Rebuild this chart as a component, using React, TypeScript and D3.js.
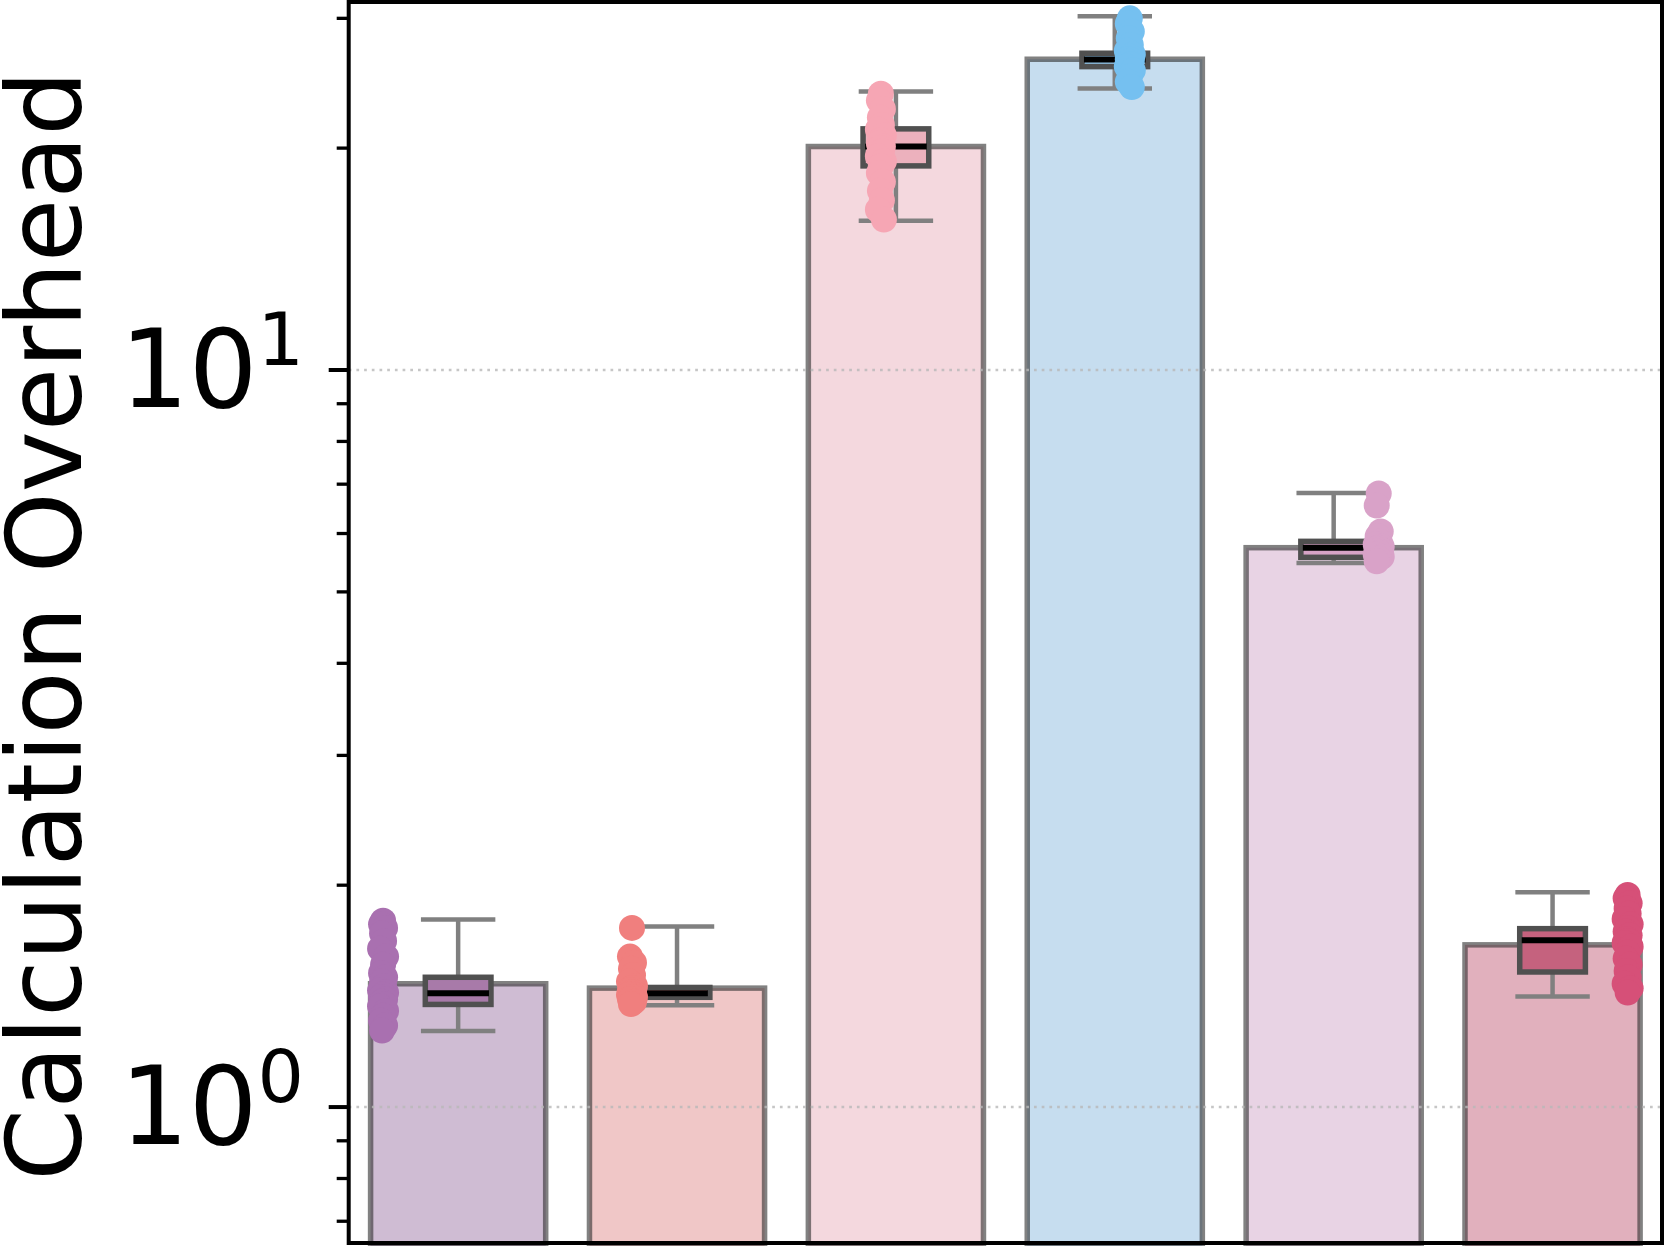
import { useEffect } from 'react';
import * as d3 from 'd3';

// six configurations, no tick labels on x in the original figure
const groups = ['A', 'B', 'C', 'D', 'E', 'F'];

// bar heights (mean overhead)
const means = [1.47, 1.45, 20.1, 26.4, 5.74, 1.66];

// box plot stats
const q1 = [1.378, 1.409, 18.92, 25.8, 5.57, 1.525];
const medians = [1.427, 1.427, 20.1, 26.37, 5.737, 1.684];
const q3 = [1.5, 1.453, 21.24, 26.9, 5.855, 1.746];
const whiskerLow = [1.268, 1.374, 15.94, 24.1, 5.47, 1.413];
const whiskerHigh = [1.797, 1.758, 23.87, 30.2, 6.81, 1.957];

// individual runs (strip points)
const runsA = [1.79, 1.77, 1.75, 1.72, 1.68, 1.64, 1.6, 1.56, 1.52, 1.5, 1.48, 1.46, 1.44, 1.43, 1.42, 1.41, 1.4, 1.39, 1.38, 1.37, 1.35, 1.33, 1.31, 1.29, 1.27];
const runsB = [1.75, 1.6, 1.57, 1.54, 1.51, 1.48, 1.46, 1.45, 1.44, 1.43, 1.43, 1.42, 1.42, 1.41, 1.41, 1.4, 1.39, 1.38];
const runsC = [23.7, 23.2, 22.6, 22.0, 21.5, 21.2, 20.8, 20.5, 20.3, 20.1, 20.0, 19.8, 19.5, 19.2, 18.9, 18.5, 18.0, 17.5, 17.0, 16.5, 16.0];
const runsD = [30.0, 29.5, 28.8, 28.2, 27.6, 27.1, 26.8, 26.6, 26.4, 26.3, 26.2, 26.0, 25.8, 25.5, 25.0, 24.6, 24.2];
const runsE = [6.8, 6.55, 6.04, 5.95, 5.85, 5.8, 5.76, 5.74, 5.72, 5.7, 5.68, 5.65, 5.62, 5.58, 5.55, 5.5];
const runsF = [1.94, 1.92, 1.89, 1.86, 1.83, 1.8, 1.77, 1.75, 1.73, 1.71, 1.69, 1.68, 1.67, 1.65, 1.62, 1.59, 1.56, 1.53, 1.5, 1.47, 1.45, 1.43];
const runs = [runsA, runsB, runsC, runsD, runsE, runsF];

const barColors = ['#cfbcd3', '#f0c7c7', '#f4d8de', '#c6ddef', '#e8d3e4', '#e1b0bd'];
const boxColors = ['#a87aa9', '#e8908f', '#ecb1bd', '#8fc0e4', '#d6a3c6', '#c5627e'];
const pointColors = ['#a970b0', '#f07f7e', '#f6a6b4', '#75c0f0', '#d9a2c8', '#d65078'];

const majorTicks = [1, 10];
const minorTicks = [0.7, 0.8, 0.9, 2, 3, 4, 5, 6, 7, 8, 9, 20, 30];

const W = 1664;
const H = 1246;
const M = { left: 348.7, right: 1662, top: 2, bottom: 1243 };
const FONT = 'DejaVu Sans, sans-serif';

const App = () => {
  useEffect(() => {
    document.body.style.margin = '0';
  }, []);

  const x = d3.scaleLinear().domain([-0.5, groups.length - 0.5]).range([M.left, M.right]);
  const y = d3.scaleLog().domain([0.654, 31.57]).range([M.bottom, M.top]);
  // strip points sit on their own, slightly wider spacing
  const xs = d3.scalePoint().domain(groups).range([x(-0.343), x(5.343)]);

  const barW = x(0.8) - x(0);
  const boxW = x(0.3) - x(0);
  const capW = x(0.17) - x(0);
  const jitter = [0, -2, 2, -1, 1, -3, 3];

  return (
    <svg width={W} height={H} style={{ display: 'block', position: 'absolute', left: 0, top: 0 }}>
      <rect width={W} height={H} fill="#fff" />

      {/* bars */}
      {groups.map((g, i) => (
        <rect
          key={g}
          x={x(i) - barW / 2}
          y={y(means[i])}
          width={barW}
          height={M.bottom - y(means[i]) + 4}
          fill={barColors[i]}
          stroke="#333"
          strokeOpacity={0.62}
          strokeWidth={5.5}
        />
      ))}

      {/* dotted grid on major ticks */}
      {majorTicks.map(t => (
        <line
          key={t}
          x1={M.left}
          x2={M.right}
          y1={y(t)}
          y2={y(t)}
          stroke="#b8b8b8"
          strokeOpacity={0.8}
          strokeWidth={2.4}
          strokeDasharray="2.7 5"
        />
      ))}

      {/* box plots */}
      {groups.map((g, i) => {
        const cx = x(i);
        return (
          <g key={g}>
            <line x1={cx} x2={cx} y1={y(q3[i])} y2={y(whiskerHigh[i])} stroke="#808080" strokeWidth={4.5} />
            <line x1={cx} x2={cx} y1={y(q1[i])} y2={y(whiskerLow[i])} stroke="#808080" strokeWidth={4.5} />
            <line x1={cx - capW} x2={cx + capW} y1={y(whiskerHigh[i])} y2={y(whiskerHigh[i])} stroke="#808080" strokeWidth={4.5} />
            <line x1={cx - capW} x2={cx + capW} y1={y(whiskerLow[i])} y2={y(whiskerLow[i])} stroke="#808080" strokeWidth={4.5} />
            <rect
              x={cx - boxW / 2}
              y={y(q3[i])}
              width={boxW}
              height={y(q1[i]) - y(q3[i])}
              fill={boxColors[i]}
              stroke="#505050"
              strokeWidth={5.5}
            />
            <line x1={cx - boxW / 2 + 2} x2={cx + boxW / 2 - 2} y1={y(medians[i])} y2={y(medians[i])} stroke="#000" strokeWidth={6} />
          </g>
        );
      })}

      {/* strip points */}
      {groups.map((g, i) => (
        <g key={g} fill={pointColors[i]}>
          {runs[i].map((v, j) => (
            <circle key={j} cx={(xs(g) as number) + jitter[j % jitter.length]} cy={y(v)} r={13} />
          ))}
        </g>
      ))}

      {/* frame */}
      <rect x={M.left} y={M.top} width={M.right - M.left} height={M.bottom - M.top} fill="none" stroke="#000" strokeWidth={4} />

      {/* y ticks */}
      {minorTicks.map(t => (
        <line key={t} x1={M.left - 12} x2={M.left} y1={y(t)} y2={y(t)} stroke="#000" strokeWidth={3.3} />
      ))}
      {majorTicks.map(t => (
        <g key={t} fontFamily={FONT}>
          <line x1={M.left - 20} x2={M.left} y1={y(t)} y2={y(t)} stroke="#000" strokeWidth={4} />
          <text x={304} y={y(t) + 37} textAnchor="end" fontSize={108} fill="#000">
            10
            <tspan dy={-42} fontSize={73}>{Math.round(Math.log10(t))}</tspan>
          </text>
        </g>
      ))}

      {/* y label */}
      <text
        transform={`translate(81, ${(M.top + M.bottom) / 2 + 3}) rotate(-90)`}
        textAnchor="middle"
        fontFamily={FONT}
        fontSize={103}
        fill="#000"
      >
        Calculation Overhead
      </text>
    </svg>
  );
};

export default App;
